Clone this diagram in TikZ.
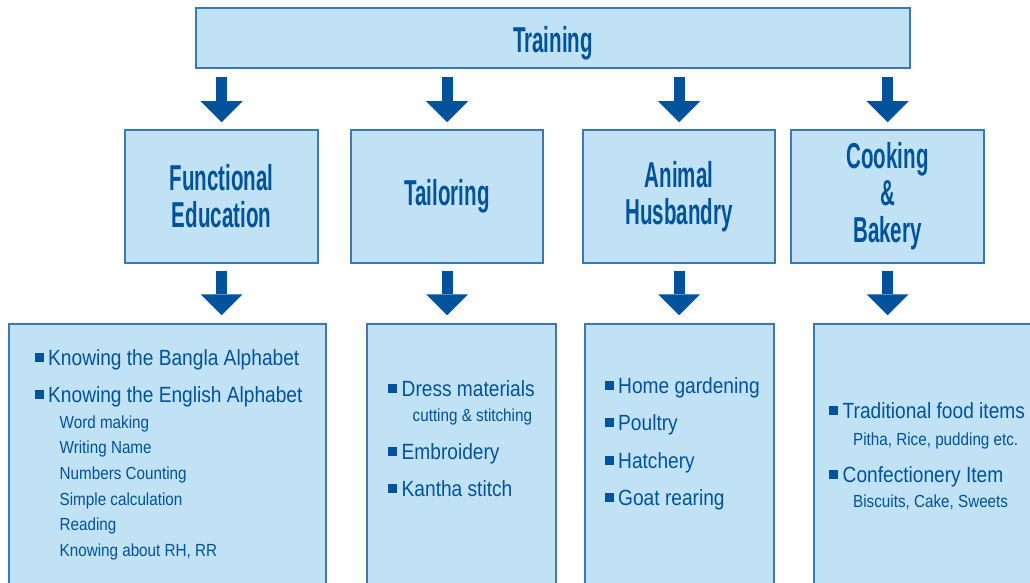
\documentclass[tikz,border=0pt]{standalone}
\usepackage{fontspec}
\usetikzlibrary{arrows.meta,calc}
\newfontfamily\headfont{Liberation Sans}[FakeStretch=0.57]
\newfontfamily\bodyfont{Liberation Sans}[FakeStretch=0.87]
\definecolor{fillblue}{RGB}{193,226,245}
\definecolor{edgeblue}{RGB}{60,120,180}
\definecolor{darkblue}{RGB}{0,82,155}
\tikzset{
  box/.style={draw=edgeblue, fill=fillblue, line width=1.5pt, inner sep=0pt, text=darkblue},
  headbox/.style={box, font=\headfont\bfseries\fontsize{36}{37}\selectfont, align=center},
  blockarrow/.style={draw=darkblue, line width=11pt, -{Triangle[length=21pt,width=42pt,line width=0pt]}},
  itemtext/.style={anchor=base west, inner sep=0pt, text=darkblue, font=\bodyfont\fontsize{22}{26}\selectfont},
  subtext/.style={anchor=base west, inner sep=0pt, text=darkblue, font=\bodyfont\fontsize{17.5}{20}\selectfont},
  bullet/.style={fill=darkblue, minimum size=9pt, inner sep=0pt}
}
\newcommand{\bul}[2]{\node[bullet] (#1) at ($(#2.base west)+(-8.7,-7.5)$) {};}
\begin{document}
\begin{tikzpicture}[x=1pt,y=-1pt]
\clip (0,0) rectangle (1030,583);
\fill[white] (0,0) rectangle (1030,583);
% top
\node[headbox, minimum width=714pt, minimum height=60pt, text height=30pt, text depth=0pt] (train) at (553,38) {Training};
% middle
\node[headbox, minimum width=193pt, minimum height=133pt] (fe) at (221.5,196.5) {Functional\\Education};
\node[headbox, minimum width=192pt, minimum height=133pt] (tl) at (447,196.5) {Tailoring};
\node[headbox, minimum width=192pt, minimum height=133pt] (ah) at (679,196.5) {Animal\\Husbandry};
\node[headbox, minimum width=193pt, minimum height=133pt] (cb) at (887.5,196.5) {\raisebox{-2pt}{\parbox{150pt}{\centering Cooking\\\&\\Bakery}}};
% bottom boxes
\node[box, minimum width=317pt, minimum height=276pt] (b1) at (167.5,462) {};
\node[box, minimum width=189pt, minimum height=276pt] (b2) at (461.5,462) {};
\node[box, minimum width=189pt, minimum height=276pt] (b3) at (679.5,462) {};
\node[box, minimum width=226pt, minimum height=276pt] (b4) at (927,462) {};
% arrows top -> middle
\foreach \n in {fe,tl,ah,cb}{
  \draw[blockarrow] ($(train.south -| \n.north)+(0,8)$) -- ($(\n.north)+(0,-7)$);
}
% arrows middle -> bottom
\foreach \m/\b in {fe/b1,tl/b2,ah/b3,cb/b4}{
  \draw[blockarrow] ($(\m.south)+(0,7)$) -- ($(\m.south |- \b.north)+(0,-8)$);
}
% box 1 text
\node[itemtext] (t11) at (48,365) {Knowing the Bangla Alphabet};
\node[itemtext] (t12) at (48,402) {Knowing the English Alphabet};
\node[subtext] (s11) at (59.5,428) {Word making};
\node[subtext] (s12) at (59.5,453.5) {Writing Name};
\node[subtext] (s13) at (59.5,479.5) {Numbers Counting};
\node[subtext] (s14) at (59.5,505) {Simple calculation};
\node[subtext] (s15) at (59.5,530.5) {Reading};
\node[subtext] (s16) at (59.5,556) {Knowing about RH, RR};
\bul{p11}{t11}\bul{p12}{t12}
% box 2 text
\node[itemtext] (t21) at (401.5,396) {Dress materials};
\node[subtext] (s21) at (412.5,421.5) {cutting \& stitching};
\node[itemtext] (t22) at (401.5,459) {Embroidery};
\node[itemtext] (t23) at (401.5,496) {Kantha stitch};
\bul{p21}{t21}\bul{p22}{t22}\bul{p23}{t23}
% box 3 text
\node[itemtext] (t31) at (618,393) {Home gardening};
\node[itemtext] (t32) at (618,430) {Poultry};
\node[itemtext] (t33) at (618,468) {Hatchery};
\node[itemtext] (t34) at (618,505) {Goat rearing};
\bul{p31}{t31}\bul{p32}{t32}\bul{p33}{t33}\bul{p34}{t34}
% box 4 text
\node[itemtext] (t41) at (842.5,418) {Traditional food items};
\node[subtext] (s41) at (853,445) {Pitha, Rice, pudding etc.};
\node[itemtext] (t42) at (842.5,482) {Confectionery Item};
\node[subtext] (s42) at (853,507.5) {Biscuits, Cake, Sweets};
\bul{p41}{t41}\bul{p42}{t42}
\end{tikzpicture}
\end{document}
